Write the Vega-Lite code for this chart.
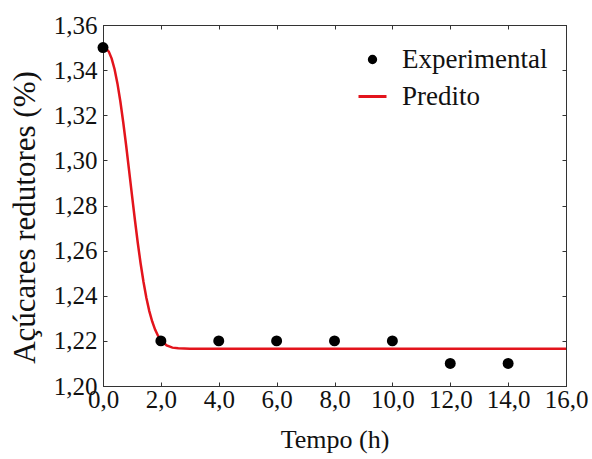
{
  "$schema": "https://vega.github.io/schema/vega-lite/v6.json",
  "width": 463,
  "height": 361,
  "autosize": "none",
  "padding": {"left": 103, "top": 25, "right": 26, "bottom": 73},
  "background": "white",
  "config": {
    "view": {"stroke": "#333333", "strokeWidth": 1},
    "axis": {
      "labelFont": "Liberation Serif, Times New Roman, DejaVu Serif, serif",
      "titleFont": "Liberation Serif, Times New Roman, DejaVu Serif, serif",
      "labelFontSize": 25,
      "titleFontSize": 26,
      "labelColor": "#111111",
      "titleColor": "#111111",
      "titleFontWeight": "normal",
      "grid": false,
      "domainColor": "#333333",
      "tickColor": "#333333",
      "tickSize": -4,
      "labelPadding": 6,
      "labelFlush": false
    }
  },
  "datasets": {
    "exp": [
      {"t": 0, "y": 1.35, "series": "Experimental"},
      {"t": 2, "y": 1.22, "series": "Experimental"},
      {"t": 4, "y": 1.22, "series": "Experimental"},
      {"t": 6, "y": 1.22, "series": "Experimental"},
      {"t": 8, "y": 1.22, "series": "Experimental"},
      {"t": 10, "y": 1.22, "series": "Experimental"},
      {"t": 12, "y": 1.21, "series": "Experimental"},
      {"t": 14, "y": 1.21, "series": "Experimental"}
    ],
    "pred": [
      {"t": 0, "y": 1.35, "series": "Predito"},
      {"t": 0.1, "y": 1.3496, "series": "Predito"},
      {"t": 0.2, "y": 1.3482, "series": "Predito"},
      {"t": 0.3, "y": 1.3451, "series": "Predito"},
      {"t": 0.4, "y": 1.3404, "series": "Predito"},
      {"t": 0.5, "y": 1.334, "series": "Predito"},
      {"t": 0.6, "y": 1.3261, "series": "Predito"},
      {"t": 0.7, "y": 1.3168, "series": "Predito"},
      {"t": 0.8, "y": 1.3066, "series": "Predito"},
      {"t": 0.9, "y": 1.2957, "series": "Predito"},
      {"t": 1.0, "y": 1.2847, "series": "Predito"},
      {"t": 1.1, "y": 1.2739, "series": "Predito"},
      {"t": 1.2, "y": 1.2636, "series": "Predito"},
      {"t": 1.3, "y": 1.2543, "series": "Predito"},
      {"t": 1.4, "y": 1.2461, "series": "Predito"},
      {"t": 1.5, "y": 1.239, "series": "Predito"},
      {"t": 1.6, "y": 1.2332, "series": "Predito"},
      {"t": 1.7, "y": 1.2286, "series": "Predito"},
      {"t": 1.8, "y": 1.225, "series": "Predito"},
      {"t": 1.9, "y": 1.2223, "series": "Predito"},
      {"t": 2.0, "y": 1.2203, "series": "Predito"},
      {"t": 2.2, "y": 1.218, "series": "Predito"},
      {"t": 2.4, "y": 1.217, "series": "Predito"},
      {"t": 2.6, "y": 1.2167, "series": "Predito"},
      {"t": 3.0, "y": 1.2165, "series": "Predito"},
      {"t": 16, "y": 1.2165, "series": "Predito"}
    ]
  },
  "layer": [
    {
      "data": {"name": "pred"},
      "mark": {"type": "line", "strokeWidth": 2.5, "clip": true},
      "encoding": {
        "x": {"field": "t", "type": "quantitative", "scale": {"domain": [0, 16], "nice": false},
              "axis": {"orient": "top", "values": [0,2,4,6,8,10,12,14,16], "labels": false, "title": null}},
        "y": {"field": "y", "type": "quantitative", "scale": {"domain": [1.2, 1.36], "nice": false, "zero": false},
              "axis": {"orient": "right", "values": [1.2,1.22,1.24,1.26,1.28,1.3,1.32,1.34,1.36], "labels": false, "title": null}},
        "color": {"field": "series", "type": "nominal",
                  "scale": {"domain": ["Experimental", "Predito"], "range": ["#000000", "#e3141c"]},
                  "legend": {
                    "orient": "none", "legendX": 256, "legendY": 21, "title": null,
                    "labelFont": "Liberation Serif, Times New Roman, DejaVu Serif, serif", "labelFontSize": 27, "labelColor": "#111111",
                    "labelOffset": 16, "rowPadding": 9, "symbolSize": 784,
                    "encode": {"symbols": {"update": {
                      "shape": {"signal": "datum.value === 'Predito' ? 'stroke' : 'circle'"},
                      "size": {"signal": "datum.value === 'Predito' ? 784 : 40"},
                      "fill": {"signal": "datum.value === 'Predito' ? 'transparent' : '#000000'"},
                      "stroke": {"signal": "datum.value === 'Predito' ? '#e3141c' : 'transparent'"},
                      "strokeWidth": {"value": 3},
                      "opacity": {"value": 1}
                    }}}
                  }}
      }
    },
    {
      "data": {"name": "exp"},
      "mark": {"type": "point", "filled": true, "size": 120, "opacity": 1, "clip": false},
      "encoding": {
        "x": {"field": "t", "type": "quantitative",
              "axis": {"orient": "bottom", "values": [0,2,4,6,8,10,12,14,16], "title": "Tempo (h)",
                       "labelExpr": "replace(format(datum.value, '.1f'), '.', ',')", "titlePadding": 14, "labelPadding": 5}},
        "y": {"field": "y", "type": "quantitative",
              "axis": {"orient": "left", "values": [1.2,1.22,1.24,1.26,1.28,1.3,1.32,1.34,1.36], "title": "Açúcares redutores (%)",
                       "labelExpr": "replace(format(datum.value, '.2f'), '.', ',')", "titlePadding": 12, "titleFontSize": 31, "labelPadding": 10, "titleY": 192}},
        "color": {"field": "series", "type": "nominal"}
      }
    }
  ]
}
